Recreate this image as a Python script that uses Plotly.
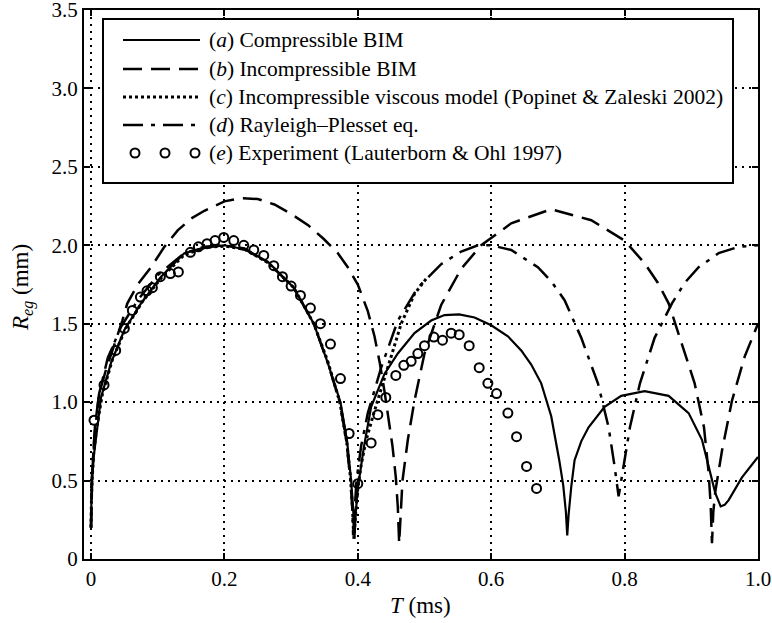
import plotly.graph_objects as go

# (a) Compressible BIM
a_t = [0, 0.001, 0.004, 0.0075, 0.015, 0.03, 0.05, 0.075, 0.105, 0.14, 0.17, 0.2, 0.23, 0.265,
       0.304, 0.334, 0.355, 0.374, 0.384, 0.390, 0.393, 0.395, 0.397, 0.400, 0.405, 0.409, 0.42,
       0.44, 0.46, 0.485, 0.51, 0.53, 0.552, 0.575, 0.60, 0.625, 0.645, 0.66, 0.675, 0.69, 0.702,
       0.708, 0.712, 0.714, 0.716, 0.72, 0.725, 0.735, 0.746, 0.77, 0.795, 0.83, 0.866, 0.896,
       0.916, 0.928, 0.936, 0.944, 0.95, 0.956, 0.976, 1.0]
a_r = [0.2, 0.46, 0.65, 0.78, 1.03, 1.25, 1.46, 1.63, 1.80, 1.95, 1.985, 2.0, 1.975, 1.895,
       1.73, 1.50, 1.25, 1.0, 0.75, 0.5, 0.32, 0.13, 0.3, 0.45, 0.6, 0.71, 0.97,
       1.18, 1.31, 1.44, 1.52, 1.555, 1.56, 1.54, 1.49, 1.42, 1.33, 1.24, 1.12, 0.91, 0.63,
       0.47, 0.3, 0.15, 0.28, 0.46, 0.63, 0.75, 0.84, 0.97, 1.04, 1.07, 1.04, 0.93,
       0.76, 0.55, 0.42, 0.335, 0.345, 0.375, 0.52, 0.65]

# (b) Incompressible BIM
b_t = [0, 0.002, 0.006, 0.012, 0.022, 0.035, 0.047, 0.0545, 0.07, 0.09, 0.11, 0.13, 0.15, 0.17,
       0.2, 0.224, 0.25, 0.275, 0.30, 0.325, 0.349, 0.37, 0.385, 0.40, 0.415, 0.425, 0.433, 0.44,
       0.447, 0.452, 0.457, 0.460, 0.462, 0.464, 0.467, 0.475, 0.485, 0.50, 0.525, 0.555, 0.585,
       0.63, 0.69, 0.75, 0.80, 0.83, 0.85, 0.866, 0.886, 0.905, 0.919, 0.926, 0.929, 0.931,
       0.933, 0.936, 0.946, 0.961, 0.98, 1.0]
b_r = [0.2, 0.55, 0.85, 1.05, 1.2, 1.36, 1.52, 1.63, 1.75, 1.86, 1.99, 2.095, 2.17, 2.22,
       2.28, 2.30, 2.295, 2.26, 2.20, 2.13, 2.04, 1.95, 1.86, 1.75, 1.58, 1.42, 1.25, 1.07,
       0.88, 0.72, 0.52, 0.33, 0.1, 0.3, 0.5, 0.76, 1.01, 1.31, 1.62, 1.85, 2.0,
       2.14, 2.23, 2.16, 2.03, 1.885, 1.76, 1.63, 1.375, 1.12, 0.84, 0.55, 0.35, 0.1,
       0.3, 0.43, 0.69, 1.01, 1.29, 1.50]

# (c) Incompressible viscous model (Popinet & Zaleski 2002)
c_t = [0, 0.001, 0.004, 0.009, 0.017, 0.032, 0.052, 0.077, 0.107, 0.14, 0.17, 0.2, 0.23, 0.265,
       0.304, 0.334, 0.355, 0.373, 0.383, 0.389, 0.392, 0.394, 0.397, 0.40, 0.405, 0.412, 0.424,
       0.445, 0.465, 0.485, 0.505]
c_r = [0.2, 0.45, 0.68, 0.85, 1.05, 1.27, 1.47, 1.64, 1.80, 1.94, 1.985, 1.995, 1.975, 1.89,
       1.73, 1.50, 1.26, 1.0, 0.76, 0.52, 0.33, 0.13, 0.3, 0.45, 0.6, 0.75, 0.93,
       1.22, 1.50, 1.69, 1.80]

# (d) Rayleigh-Plesset eq.
d_t = [0, 0.001, 0.005, 0.012, 0.025, 0.045, 0.07, 0.10, 0.14, 0.17, 0.2, 0.23, 0.265, 0.304,
       0.334, 0.355, 0.373, 0.383, 0.389, 0.392, 0.393, 0.395, 0.398, 0.405, 0.415, 0.435, 0.46,
       0.49, 0.525, 0.555, 0.58, 0.60, 0.63, 0.67, 0.69, 0.71, 0.735, 0.76, 0.776, 0.785, 0.789,
       0.791, 0.793, 0.798, 0.808, 0.823, 0.845, 0.871, 0.89, 0.911, 0.941, 0.971, 1.0]
d_r = [0.2, 0.5, 0.78, 1.05, 1.28, 1.48, 1.65, 1.81, 1.95, 1.99, 2.0, 1.98, 1.89, 1.73,
       1.50, 1.25, 1.0, 0.75, 0.5, 0.3, 0.15, 0.3, 0.5, 0.72, 0.93, 1.22, 1.52,
       1.73, 1.88, 1.96, 2.0, 2.0, 1.97, 1.86, 1.77, 1.65, 1.41, 1.12, 0.84, 0.59, 0.45,
       0.40, 0.45, 0.59, 0.84, 1.12, 1.41, 1.63, 1.76, 1.86, 1.95, 1.99, 2.0]

# (e) Experiment (Lauterborn & Ohl 1997)
e_t = [0.0045, 0.0195, 0.037, 0.05, 0.062, 0.074, 0.084, 0.092, 0.104, 0.119, 0.131, 0.149,
       0.161, 0.174, 0.186, 0.199, 0.214, 0.229, 0.244, 0.259, 0.274, 0.287, 0.30, 0.314, 0.329,
       0.344, 0.359, 0.374, 0.387, 0.40, 0.42, 0.43, 0.442, 0.457, 0.469, 0.48, 0.49, 0.50,
       0.514, 0.527, 0.54, 0.552, 0.567, 0.582, 0.595, 0.608, 0.625, 0.638, 0.653, 0.668]
e_r = [0.885, 1.11, 1.33, 1.47, 1.585, 1.67, 1.71, 1.73, 1.80, 1.82, 1.83, 1.955,
       1.99, 2.01, 2.03, 2.05, 2.03, 2.0, 1.97, 1.935, 1.87, 1.80, 1.74, 1.68, 1.60,
       1.50, 1.37, 1.15, 0.80, 0.48, 0.74, 0.92, 1.03, 1.17, 1.235, 1.26, 1.31, 1.36,
       1.415, 1.395, 1.44, 1.43, 1.36, 1.22, 1.12, 1.055, 0.93, 0.78, 0.59, 0.45]

x_ticks = [0, 0.2, 0.4, 0.6, 0.8, 1.0]
x_labels = ["0", "0.2", "0.4", "0.6", "0.8", "1.0"]
y_ticks = [0, 0.5, 1.0, 1.5, 2.0, 2.5, 3.0, 3.5]
y_labels = ["0", "0.5", "1.0", "1.5", "2.0", "2.5", "3.0", "3.5"]

legend_labels = [
    "(<i>a</i>) Compressible BIM",
    "(<i>b</i>) Incompressible BIM",
    "(<i>c</i>) Incompressible viscous model (Popinet &amp; Zaleski 2002)",
    "(<i>d</i>) Rayleigh–Plesset eq.",
    "(<i>e</i>) Experiment (Lauterborn &amp; Ohl 1997)",
]
x_title = "<i>T</i> (ms)"
y_title = "<i>R</i><sub><i>eg</i></sub> (mm)"

FONT = "Liberation Serif"
dash_a = "solid"
dash_b = "19px,9px"
dash_c = "3px,3px"
dash_d = "20px,8px,4px,8px"

fig = go.Figure()
fig.add_trace(go.Scatter(x=a_t, y=a_r, mode="lines", line=dict(color="black", width=2.2, dash=dash_a)))
fig.add_trace(go.Scatter(x=b_t, y=b_r, mode="lines", line=dict(color="black", width=2.5, dash=dash_b)))
fig.add_trace(go.Scatter(x=c_t, y=c_r, mode="lines", line=dict(color="black", width=3, dash=dash_c)))
fig.add_trace(go.Scatter(x=d_t, y=d_r, mode="lines", line=dict(color="black", width=2.5, dash=dash_d)))
fig.add_trace(go.Scatter(x=e_t, y=e_r, mode="markers",
                         marker=dict(symbol="circle-open", size=9, color="black", line=dict(width=2, color="black"))))

# Plot area in pixels: x 84..758, y 10..559
L, R, T, B = 84, 758, 10, 559
def px(xp):
    return (xp - L) / (R - L)
def py(yp):
    return (B - yp) / (B - T)

shapes = []
annotations = []
# legend box
shapes.append(dict(type="rect", xref="paper", yref="paper", x0=px(103), x1=px(733), y0=py(183), y1=py(19),
                   line=dict(color="black", width=2), fillcolor="white", layer="above"))
rows = [40, 69, 97, 125, 153]
dashes = [dash_a, dash_b, dash_c, dash_d]
widths = [2.2, 2.5, 3, 2.5]
for i, d in enumerate(dashes):
    shapes.append(dict(type="line", xref="paper", yref="paper", x0=px(123), x1=px(200),
                       y0=py(rows[i]), y1=py(rows[i]), line=dict(color="black", width=widths[i], dash=d),
                       layer="above"))
for cx in [135, 165, 195]:
    shapes.append(dict(type="circle", xref="paper", yref="paper", xsizemode="pixel", ysizemode="pixel",
                       xanchor=px(cx), yanchor=py(rows[4]), x0=-4.5, x1=4.5, y0=-4.5, y1=4.5,
                       line=dict(color="black", width=2), layer="above"))
for i, lab in enumerate(legend_labels):
    annotations.append(dict(text=lab, xref="paper", yref="paper", x=px(207), y=py(rows[i]),
                            xanchor="left", yanchor="middle", showarrow=False,
                            font=dict(family=FONT, size=21.5, color="black")))
annotations.append(dict(text=x_title, xref="paper", yref="paper", x=px(420), y=py(605),
                        xanchor="center", yanchor="middle", showarrow=False,
                        font=dict(family=FONT, size=23, color="black")))
annotations.append(dict(text=y_title, xref="paper", yref="paper", x=px(22), y=py(288),
                        xanchor="center", yanchor="middle", showarrow=False, textangle=-90,
                        font=dict(family=FONT, size=23, color="black")))

fig.update_layout(
    width=772, height=623,
    margin=dict(l=L, r=772 - R, t=T, b=623 - B, autoexpand=False),
    paper_bgcolor="white", plot_bgcolor="white",
    showlegend=False,
    font=dict(family=FONT, size=21, color="black"),
    shapes=shapes, annotations=annotations,
)
fig.update_xaxes(range=[-0.0105, 1.0], tickvals=x_ticks, ticktext=x_labels, automargin=False,
                 showline=True, linecolor="black", linewidth=2, mirror="allticks",
                 ticks="inside", ticklen=6, tickwidth=1.5, tickcolor="black",
                 showgrid=True, gridcolor="black", gridwidth=1.5, griddash="2px,5px",
                 zeroline=False, tickfont=dict(family=FONT, size=21, color="black"),
                 ticklabeloverflow="allow")
fig.update_yaxes(range=[0, 3.5], tickvals=y_ticks, ticktext=y_labels, automargin=False,
                 showline=True, linecolor="black", linewidth=2, mirror="allticks",
                 ticks="inside", ticklen=6, tickwidth=1.5, tickcolor="black",
                 showgrid=True, gridcolor="black", gridwidth=1.5, griddash="2px,5px",
                 zeroline=False, tickfont=dict(family=FONT, size=21, color="black"),
                 ticklabeloverflow="allow")

fig.write_html("out.html", config={"displayModeBar": False},
               post_script="document.body.style.margin='0px';document.body.style.overflow='hidden';")
